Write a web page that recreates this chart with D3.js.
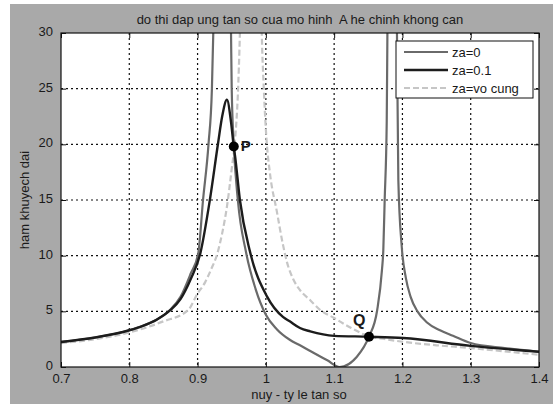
<!DOCTYPE html>
<html>
<head>
<meta charset="utf-8">
<script src="https://cdn.jsdelivr.net/npm/d3@7"></script>
<style>
  body { margin: 0; background: #fff; }
  text { font-family: "Liberation Sans", Arial, sans-serif; fill: #1a1a1a; }
</style>
</head>
<body>
<div id="chart"></div>
<script>
// tick values
const xTicks = [0.7, 0.8, 0.9, 1.0, 1.1, 1.2, 1.3, 1.4];
const yTicks = [0, 5, 10, 15, 20, 25, 30];

// curves, [nuy, amplitude]
const za0 = [
  [0.70, 2.25], [0.75, 2.65], [0.80, 3.3], [0.82, 3.7], [0.84, 4.25], [0.86, 5.15],
  [0.875, 6.3], [0.89, 8.4], [0.901, 10.2], [0.908, 15], [0.916, 20], [0.921, 25],
  [0.923, 30], [0.928, 50], [0.945, 50], [0.949, 30], [0.950, 25], [0.953, 20],
  [0.959, 15], [0.971, 10.3], [0.985, 7.0], [1.000, 4.7], [1.016, 3.4], [1.035, 2.45],
  [1.050, 1.95], [1.069, 1.3], [1.090, 0.6], [1.108, 0], [1.133, 0.9], [1.151, 2.72],
  [1.163, 5.1], [1.170, 8.7], [1.172, 10.5], [1.174, 15], [1.177, 22], [1.178, 30],
  [1.183, 50], [1.188, 50], [1.192, 30], [1.194, 16.8], [1.199, 10.8], [1.205, 8.0],
  [1.212, 6.3], [1.222, 5.0], [1.236, 4.0], [1.255, 3.3], [1.274, 2.8], [1.30, 2.15],
  [1.35, 1.7], [1.40, 1.37]
];
const za01 = [
  [0.70, 2.25], [0.75, 2.65], [0.80, 3.3], [0.82, 3.7], [0.84, 4.25], [0.86, 5.1],
  [0.875, 6.1], [0.89, 7.9], [0.904, 10.2], [0.918, 15], [0.930, 20.1], [0.936, 22.5],
  [0.943, 24.0], [0.949, 22], [0.953, 19.8], [0.955, 18.9], [0.962, 15], [0.977, 10.3],
  [1.002, 6.3], [1.025, 4.5], [1.035, 4.1], [1.050, 3.5], [1.065, 3.2], [1.100, 2.8],
  [1.151, 2.72], [1.201, 2.6], [1.30, 1.9], [1.40, 1.37]
];
const zaInf = [
  [0.70, 2.15], [0.75, 2.5], [0.80, 3.1], [0.85, 4.1], [0.886, 5.1], [0.90, 6.6],
  [0.911, 7.6], [0.92, 8.8], [0.929, 10.2], [0.936, 12.0], [0.943, 14.4], [0.950, 17.8],
  [0.955, 20.5], [0.959, 24.5], [0.962, 30], [0.967, 45], [0.990, 45], [0.994, 30],
  [0.997, 25], [1.001, 20.4], [1.006, 17.4], [1.016, 14.0], [1.025, 11.0], [1.031, 9.4],
  [1.040, 7.9], [1.050, 6.9], [1.065, 6.0], [1.080, 5.1], [1.100, 4.4], [1.125, 3.5],
  [1.151, 2.75], [1.175, 2.5], [1.200, 2.27], [1.25, 1.95], [1.30, 1.7], [1.35, 1.4],
  [1.40, 1.1]
];
const seriesNames = ["za=0", "za=0.1", "za=vo cung"];
const markNames = ["P", "Q"];
const markX = [0.953, 1.151];
const markY = [19.8, 2.72];

let svg = d3.select("#chart").append("svg")
    .attr("width", 553)
    .attr("height", 404);

// grey figure background
svg.append("rect")
    .attr("x", 10).attr("y", 4)
    .attr("width", 543).attr("height", 400)
    .attr("fill", "#a9a9a9");

let x = d3.scaleLinear().domain([0.7, 1.4]).range([61, 539]);
let y = d3.scaleLinear().domain([0, 30]).range([367, 33]);

svg.append("rect")
    .attr("x", x(0.7)).attr("y", y(30))
    .attr("width", x(1.4) - x(0.7)).attr("height", y(0) - y(30))
    .attr("fill", "#fff");

svg.append("clipPath").attr("id", "plotclip")
    .append("rect")
    .attr("x", x(0.7)).attr("y", y(30))
    .attr("width", x(1.4) - x(0.7)).attr("height", y(0) - y(30));

//dotted grid
let grid = svg.append("g").attr("class", "grid");
grid.selectAll("line.gx")
    .data(xTicks.slice(1, -1))
    .enter().append("line")
    .attr("x1", d => x(d)).attr("x2", d => x(d))
    .attr("y1", y(30)).attr("y2", y(0));
grid.selectAll("line.gy")
    .data(yTicks.slice(1, -1))
    .enter().append("line")
    .attr("x1", x(0.7)).attr("x2", x(1.4))
    .attr("y1", d => y(d)).attr("y2", d => y(d));
grid.selectAll("line")
    .attr("stroke", "#111")
    .attr("stroke-width", 1.2)
    .attr("stroke-dasharray", "2,3");

// curves
let line = d3.line()
    .x(d => x(d[0]))
    .y(d => y(d[1]))
    .curve(d3.curveMonotoneX);

let curves = svg.append("g").attr("clip-path", "url(#plotclip)");
let seriesData = [zaInf, za0, za01];
let seriesStyle = [
    {color: "#c6c6c6", width: 2.2, dash: "6,3"},
    {color: "#6a6a6a", width: 2.2, dash: null},
    {color: "#1c1c1c", width: 2.4, dash: null}
];
seriesData.forEach((s, i) => {
    curves.append("path")
        .datum(s)
        .attr("d", line)
        .attr("fill", "none")
        .attr("stroke", seriesStyle[i].color)
        .attr("stroke-width", seriesStyle[i].width)
        .attr("stroke-dasharray", seriesStyle[i].dash)
        .attr("stroke-linejoin", "round");
});

// axes, ticks pointing inward like matlab
let fmt = d => String(d);
svg.append("g")
    .attr("transform", `translate(0,${y(0)})`)
    .call(d3.axisBottom(x).tickValues(xTicks).tickFormat(fmt).tickSizeInner(-5).tickSizeOuter(0).tickPadding(7))
    .call(g => g.select(".domain").remove());
svg.append("g")
    .attr("transform", `translate(0,${y(30)})`)
    .call(d3.axisTop(x).tickValues(xTicks).tickFormat("").tickSizeInner(-5).tickSizeOuter(0))
    .call(g => g.select(".domain").remove());
svg.append("g")
    .attr("class", "yaxis")
    .attr("transform", `translate(${x(0.7)},0)`)
    .call(d3.axisLeft(y).tickValues(yTicks).tickFormat(fmt).tickSizeInner(-5).tickSizeOuter(0).tickPadding(8))
    .call(g => g.select(".domain").remove());
svg.append("g")
    .attr("transform", `translate(${x(1.4)},0)`)
    .call(d3.axisRight(y).tickValues(yTicks).tickFormat("").tickSizeInner(-5).tickSizeOuter(0))
    .call(g => g.select(".domain").remove());
svg.selectAll(".tick text")
    .attr("font-size", 13)
    .attr("font-family", "Liberation Sans, Arial, sans-serif")
    .attr("fill", "#1a1a1a");
svg.selectAll(".yaxis .tick text").attr("dy", "0.2em");
svg.selectAll(".tick line").attr("stroke", "#111");

svg.append("rect")
    .attr("x", x(0.7)).attr("y", y(30))
    .attr("width", x(1.4) - x(0.7)).attr("height", y(0) - y(30))
    .attr("fill", "none")
    .attr("stroke", "#111")
    .attr("stroke-width", 1.2);

// P and Q
svg.selectAll("circle.mark")
    .data(markNames)
    .enter().append("circle")
    .attr("cx", (d, i) => x(markX[i]))
    .attr("cy", (d, i) => y(markY[i]))
    .attr("r", 5)
    .attr("fill", "#000");
svg.append("text")
    .attr("x", x(markX[0]) + 7).attr("y", y(markY[0]) + 4)
    .attr("font-size", 15).attr("font-weight", "bold")
    .text(markNames[0]);
svg.append("text")
    .attr("x", x(markX[1]) - 16).attr("y", y(markY[1]) - 11)
    .attr("font-size", 16).attr("font-weight", "bold")
    .text(markNames[1]);

// legend
let legend = svg.append("g");
legend.append("rect")
    .attr("x", 396).attr("y", 41)
    .attr("width", 137).attr("height", 57)
    .attr("fill", "#fff")
    .attr("stroke", "#111");
let legendOrder = [1, 2, 0];
seriesNames.forEach((name, i) => {
    let st = seriesStyle[legendOrder[i]];
    let ly = 52 + i * 18;
    legend.append("line")
        .attr("x1", 404).attr("x2", 448)
        .attr("y1", ly).attr("y2", ly)
        .attr("stroke", st.color)
        .attr("stroke-width", st.width)
        .attr("stroke-dasharray", st.dash);
    legend.append("text")
        .attr("x", 452).attr("y", ly + 5)
        .attr("font-size", 13)
        .text(name);
});

// titles
svg.append("text")
    .attr("x", 300).attr("y", 24)
    .attr("text-anchor", "middle")
    .attr("font-size", 13)
    .style("white-space", "pre")
    .text("do thi dap ung tan so cua mo hinh  A he chinh khong can");
svg.append("text")
    .attr("x", 299).attr("y", 399)
    .attr("text-anchor", "middle")
    .attr("font-size", 13)
    .text("nuy - ty le tan so");
svg.append("text")
    .attr("transform", "translate(29,200) rotate(-90)")
    .attr("text-anchor", "middle")
    .attr("font-size", 13)
    .text("ham khuyech dai");
</script>
</body>
</html>
